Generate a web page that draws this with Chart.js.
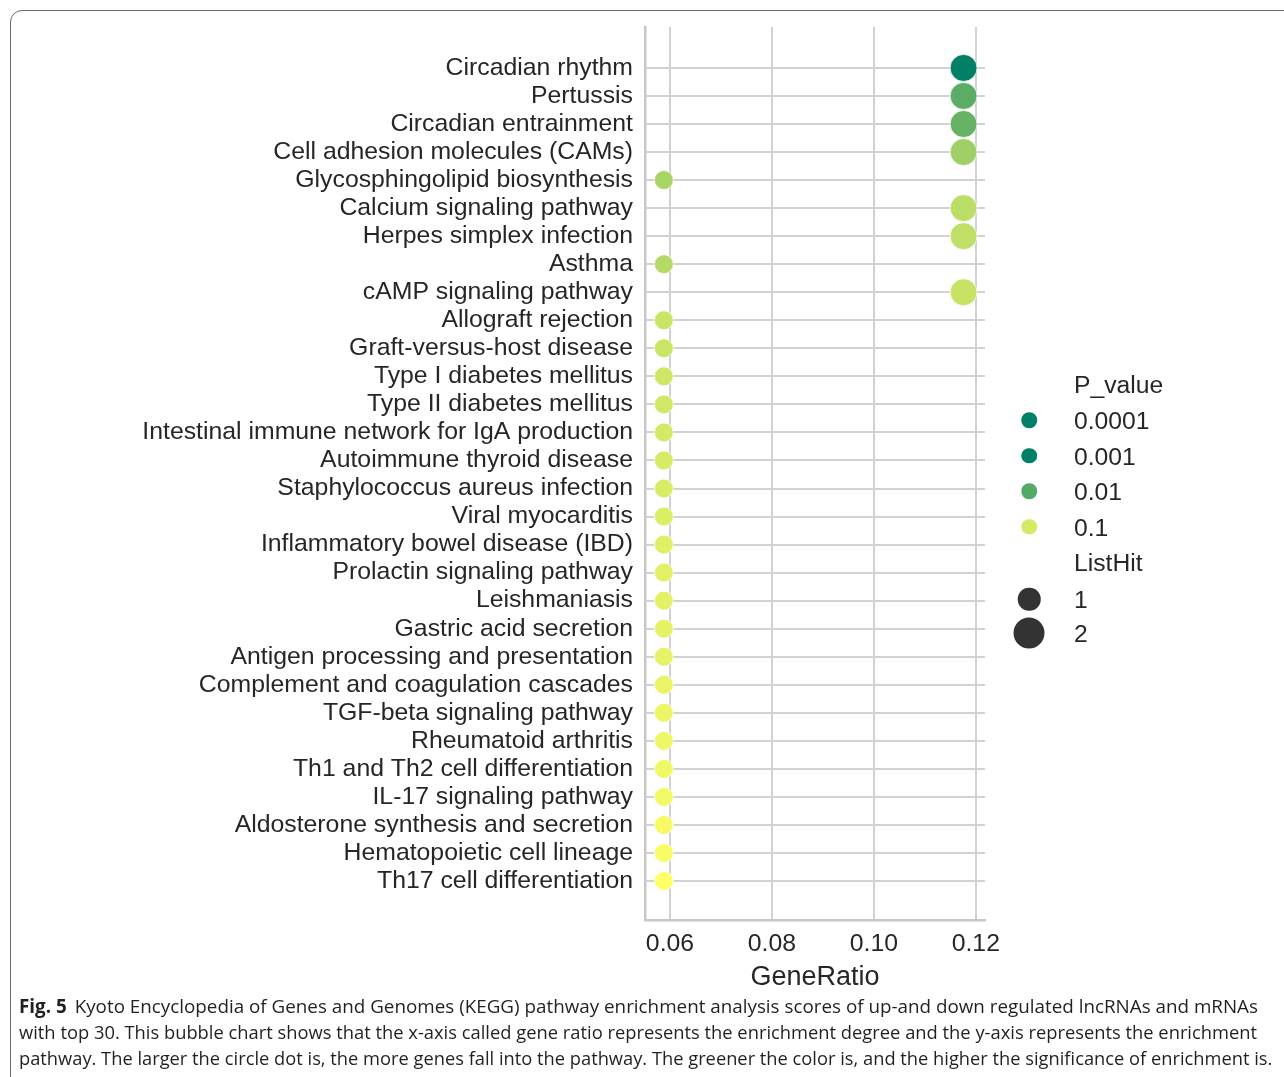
<!DOCTYPE html>
<html>
<head>
<meta charset="utf-8">
<script src="https://cdn.jsdelivr.net/npm/chart.js@4.4.1/dist/chart.umd.min.js"></script>
<style>
  html, body { margin: 0; padding: 0; background: #fff; width: 1284px; height: 1077px; overflow: hidden; }
  #frame { position: absolute; left: 10px; top: 10px; width: 1400px; height: 1200px;
           border: 1.5px solid #6a6a6a; border-top-left-radius: 12px; }
  #plot { position: absolute; left: 0; top: 0; }
  .leg { position: absolute; font: 24.7px "Liberation Sans", Arial, sans-serif; color: #262626;
         line-height: 25px; transform: translateY(-50%); white-space: nowrap; }
  .dot { position: absolute; border-radius: 50%; transform: translate(-50%, -50%); }
  .cap { position: absolute; left: 19px; font: 19px "Open Sans", "Noto Sans", sans-serif; color: #231f20;
         white-space: nowrap; transform-origin: 0 50%; line-height: 26px; }
  .cap b { font-weight: 700; margin-right: 8px; }
</style>
</head>
<body>
<div id="frame"></div>
<canvas id="plot" width="1284" height="1000"></canvas>
<div id="legend"></div>
<div class="cap" id="cap1" style="top:993px"><b>Fig. 5</b>Kyoto Encyclopedia of Genes and Genomes (KEGG) pathway enrichment analysis scores of up-and down regulated lncRNAs and mRNAs</div>
<div class="cap" id="cap2" style="top:1019px">with top 30. This bubble chart shows that the x-axis called gene ratio represents the enrichment degree and the y-axis represents the enrichment</div>
<div class="cap" id="cap3" style="top:1045px">pathway. The larger the circle dot is, the more genes fall into the pathway. The greener the color is, and the higher the significance of enrichment is.</div>
<script>
// KEGG pathways, top to bottom
const pathways = [
  'Circadian rhythm', 'Pertussis', 'Circadian entrainment', 'Cell adhesion molecules (CAMs)',
  'Glycosphingolipid biosynthesis', 'Calcium signaling pathway', 'Herpes simplex infection',
  'Asthma', 'cAMP signaling pathway', 'Allograft rejection', 'Graft-versus-host disease',
  'Type I diabetes mellitus', 'Type II diabetes mellitus',
  'Intestinal immune network for IgA production', 'Autoimmune thyroid disease',
  'Staphylococcus aureus infection', 'Viral myocarditis', 'Inflammatory bowel disease (IBD)',
  'Prolactin signaling pathway', 'Leishmaniasis', 'Gastric acid secretion',
  'Antigen processing and presentation', 'Complement and coagulation cascades',
  'TGF-beta signaling pathway', 'Rheumatoid arthritis', 'Th1 and Th2 cell differentiation',
  'IL-17 signaling pathway', 'Aldosterone synthesis and secretion',
  'Hematopoietic cell lineage', 'Th17 cell differentiation'
];
const geneRatio = [
  0.1176, 0.1176, 0.1176, 0.1176, 0.0588, 0.1176, 0.1176, 0.0588, 0.1176, 0.0588,
  0.0588, 0.0588, 0.0588, 0.0588, 0.0588, 0.0588, 0.0588, 0.0588, 0.0588, 0.0588,
  0.0588, 0.0588, 0.0588, 0.0588, 0.0588, 0.0588, 0.0588, 0.0588, 0.0588, 0.0588
];
const listHit = [2, 2, 2, 2, 1, 2, 2, 1, 2, 1, 1, 1, 1, 1, 1, 1, 1, 1, 1, 1, 1, 1, 1, 1, 1, 1, 1, 1, 1, 1];
const pValues = [
  0.0023, 0.0115, 0.0142, 0.039, 0.046, 0.066, 0.069, 0.058, 0.079, 0.083,
  0.085, 0.089, 0.093, 0.100, 0.105, 0.110, 0.115, 0.120, 0.125, 0.130,
  0.135, 0.140, 0.146, 0.152, 0.158, 0.165, 0.172, 0.180, 0.190, 0.213
];
const xTicks = [0.06, 0.08, 0.10, 0.12];
const legendP = [0.0001, 0.001, 0.01, 0.1];
const legendHits = [1, 2];

const FONT = '"Liberation Sans", Arial, sans-serif';
const TEXT = '#262626';
const GRID = '#d2d2d2';

// "summer" colormap on a log p-value scale
const lo = Math.log10(Math.min(...pValues));
const hi = Math.log10(Math.max(...pValues));
function pColor(p) {
  let t = (Math.log10(p) - lo) / (hi - lo);
  t = Math.min(1, Math.max(0, t));
  return `rgb(${Math.round(255 * t)},${Math.round(255 * (0.5 + 0.5 * t))},102)`;
}
function radiusFor(hits) { return hits === 2 ? 13.5 : 9.5; }

Chart.defaults.font.family = FONT;
Chart.defaults.color = TEXT;

new Chart(document.getElementById('plot'), {
  type: 'bubble',
  data: {
    datasets: [{
      data: pathways.map((name, i) => ({ x: geneRatio[i], y: i, r: radiusFor(listHit[i]) })),
      backgroundColor: pValues.map(pColor),
      borderColor: '#ffffff',
      borderWidth: 0.8,
    }],
  },
  options: {
    responsive: false,
    animation: false,
    layout: { padding: { left: 0, top: 27, right: 299, bottom: 0 } },
    plugins: { legend: { display: false }, tooltip: { enabled: false } },
    scales: {
      x: {
        type: 'linear',
        min: 0.0551,
        max: 0.1218,
        afterBuildTicks: (s) => { s.ticks = xTicks.map(v => ({ value: v })); },
        afterFit: (s) => { s.height = 80; },
        grid: { color: GRID, lineWidth: 2, drawTicks: false },
        border: { color: '#c8c8c8', width: 2.5 },
        ticks: { padding: 9, font: { size: 24.8 }, color: TEXT, callback: v => v.toFixed(2) },
        title: { display: true, text: 'GeneRatio', font: { size: 27 }, color: TEXT, padding: { top: 0, bottom: 6 } },
      },
      y: {
        type: 'linear',
        reverse: true,
        min: -1.46,
        max: 30.39,
        afterBuildTicks: (s) => { s.ticks = pathways.map((n, i) => ({ value: i })); },
        afterFit: (s) => { s.width = 645; },
        grid: { color: GRID, lineWidth: 2, drawTicks: false },
        border: { color: '#c8c8c8', width: 2.5 },
        ticks: { padding: 12, autoSkip: false, font: { size: 24.8 }, color: TEXT, callback: v => pathways[v] },
      },
    },
  },
});

// legend: p-value colours, then ListHit sizes
const legend = document.getElementById('legend');
function addText(txt, x, y) {
  const d = document.createElement('div');
  d.className = 'leg'; d.textContent = txt;
  d.style.left = x + 'px'; d.style.top = y + 'px';
  legend.appendChild(d);
}
function addDot(color, size, x, y) {
  const d = document.createElement('div');
  d.className = 'dot';
  d.style.background = color; d.style.width = size + 'px'; d.style.height = size + 'px';
  d.style.left = x + 'px'; d.style.top = y + 'px';
  legend.appendChild(d);
}
addText('P_value', 1074, 384);
legendP.forEach((p, i) => {
  const y = 420 + i * 35.5;
  addDot(pColor(p), 15.5, 1029, y);
  addText(String(p), 1074, y);
});
addText('ListHit', 1074, 562);
legendHits.forEach((h, i) => {
  const y = 599 + i * 34;
  addDot('#333333', h === 2 ? 31 : 22.5, 1029, y);
  addText(String(h), 1074, y);
});

// fit caption lines to their column width
[['cap1', 1239], ['cap2', 1238], ['cap3', 1253]].forEach(([id, w]) => {
  const el = document.getElementById(id);
  el.style.transform = `scaleX(${w / el.scrollWidth})`;
});
</script>
</body>
</html>
